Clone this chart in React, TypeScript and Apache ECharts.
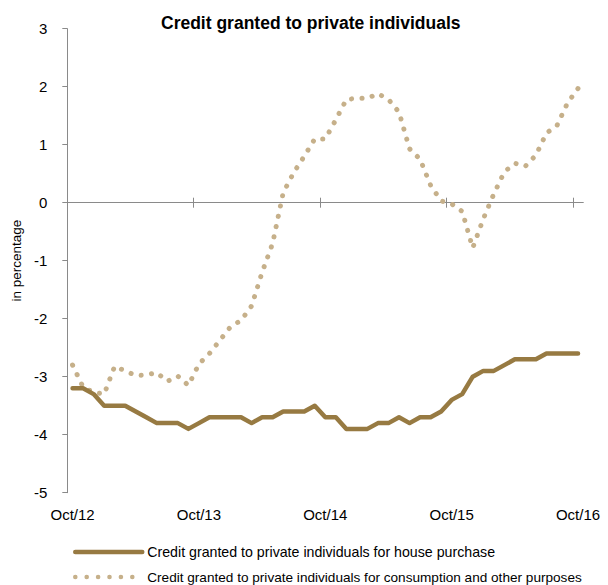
import React, { useEffect, useRef } from "react";
import * as echarts from "echarts";

const categories: string[] = [
  "Oct/12","Nov/12","Dec/12","Jan/13","Feb/13","Mar/13","Apr/13","May/13","Jun/13","Jul/13","Aug/13","Sep/13",
  "Oct/13","Nov/13","Dec/13","Jan/14","Feb/14","Mar/14","Apr/14","May/14","Jun/14","Jul/14","Aug/14","Sep/14",
  "Oct/14","Nov/14","Dec/14","Jan/15","Feb/15","Mar/15","Apr/15","May/15","Jun/15","Jul/15","Aug/15","Sep/15",
  "Oct/15","Nov/15","Dec/15","Jan/16","Feb/16","Mar/16","Apr/16","May/16","Jun/16","Jul/16","Aug/16","Sep/16",
  "Oct/16",
];

const housePurchase: number[] = [
  -3.2, -3.2, -3.3, -3.5, -3.5, -3.5, -3.6, -3.7, -3.8, -3.8, -3.8, -3.9,
  -3.8, -3.7, -3.7, -3.7, -3.7, -3.8, -3.7, -3.7, -3.6, -3.6, -3.6, -3.5,
  -3.7, -3.7, -3.9, -3.9, -3.9, -3.8, -3.8, -3.7, -3.8, -3.7, -3.7, -3.6,
  -3.4, -3.3, -3.0, -2.9, -2.9, -2.8, -2.7, -2.7, -2.7, -2.6, -2.6, -2.6,
  -2.6,
];

const consumption: number[] = [
  -2.8, -3.18, -3.27, -3.3, -2.82, -2.9, -2.98, -2.97, -2.93, -3.08, -2.99, -3.15,
  -2.78, -2.6, -2.37, -2.14, -2.03, -1.78, -1.2, -0.7, 0.17, 0.52, 0.8, 1.1,
  1.1, 1.43, 1.78, 1.8, 1.8, 1.88, 1.78, 1.56, 0.93, 0.75, 0.3, 0.03,
  -0.02, -0.15, -0.78, -0.28, 0.15, 0.53, 0.68, 0.63, 0.82, 1.2, 1.33, 1.72,
  1.97,
];

// positions (month index) of the yearly ticks on the zero line
const yearTickIndex: number[] = [0, 12, 24, 36, 48];

const seriesNames: string[] = [
  "Credit granted to private individuals for house purchase",
  "Credit granted to private individuals for consumption and other purposes",
];

const titleText = "Credit granted to private individuals";
const yAxisName = "in percentage";

const FONT = "'Liberation Sans Narrow', 'Arial Narrow', 'Liberation Sans', Arial, sans-serif";
const AXIS_COLOR = "#8a8a8a";
const SOLID_COLOR = "#977a42";
const DOT_COLOR = "#c6b08a";

export default function App() {
  const ref = useRef<HTMLDivElement>(null);
  useEffect(() => {
    document.body.style.margin = "0";
    if (!ref.current) return;
    const chart = echarts.init(ref.current, null, { renderer: "svg" });
    const n = categories.length;
    const tickAxis = {
      type: "value",
      min: 0,
      max: n,
      axisLabel: { show: false },
      splitLine: { show: false },
    };
    const legendBase = {
      orient: "vertical",
      left: 73,
      padding: 0,
      itemWidth: 67,
      itemHeight: 10,
      itemStyle: { opacity: 0 },
    };
    chart.setOption({
      animation: false,
      backgroundColor: "#ffffff",
      title: {
        text: titleText,
        left: 161,
        top: 14,
        padding: 0,
        textStyle: { fontFamily: FONT, fontWeight: "bold", fontSize: 17.5, color: "#000" },
      },
      grid: { left: 67.3, right: 24.7, top: 28.7, bottom: 92.3, containLabel: false },
      legend: [
        {
          ...legendBase,
          top: 545,
          data: [seriesNames[0]],
          textStyle: { fontFamily: FONT, fontSize: 14.2, color: "#000", lineHeight: 14 },
          lineStyle: { width: 4.5, color: SOLID_COLOR, type: "solid", cap: "round" },
        },
        {
          ...legendBase,
          top: 570,
          data: [seriesNames[1]],
          textStyle: { fontFamily: FONT, fontSize: 13.6, color: "#000", lineHeight: 14 },
          lineStyle: { width: 4.5, color: DOT_COLOR, type: [0.1, 11.3], cap: "round" },
        },
      ],
      xAxis: [
        {
          type: "category",
          data: categories,
          boundaryGap: true,
          position: "bottom",
          axisLine: { show: false, onZero: false },
          axisTick: { show: false },
          splitLine: { show: false },
          axisLabel: {
            interval: 11,
            margin: 14,
            fontFamily: FONT,
            fontSize: 15,
            color: "#000",
          },
        },
        {
          ...tickAxis,
          position: "bottom",
          axisLine: { show: true, onZero: true, onZeroAxisIndex: 0, lineStyle: { color: AXIS_COLOR, width: 1 } },
          axisTick: { show: true, customValues: yearTickIndex, length: 5, lineStyle: { color: AXIS_COLOR, width: 1 } },
        },
        {
          ...tickAxis,
          position: "top",
          axisLine: { show: false, onZero: true, onZeroAxisIndex: 0 },
          axisTick: { show: true, customValues: yearTickIndex, length: 5, lineStyle: { color: AXIS_COLOR, width: 1 } },
        },
      ],
      yAxis: {
        type: "value",
        min: -5,
        max: 3,
        interval: 1,
        name: yAxisName,
        nameLocation: "middle",
        nameGap: 42,
        nameTextStyle: { fontFamily: FONT, fontSize: 13.5, color: "#000" },
        axisLine: { show: true, onZero: false, lineStyle: { color: AXIS_COLOR, width: 1 } },
        axisTick: { show: true, length: 5, lineStyle: { color: AXIS_COLOR, width: 1 } },
        splitLine: { show: false },
        axisLabel: { margin: 20, fontFamily: FONT, fontSize: 15, color: "#000" },
      },
      series: [
        {
          name: seriesNames[0],
          type: "line",
          xAxisIndex: 0,
          data: housePurchase,
          symbol: "none",
          lineStyle: { color: SOLID_COLOR, width: 4.5, cap: "round", join: "round" },
          itemStyle: { color: SOLID_COLOR },
          z: 3,
        },
        {
          name: seriesNames[1],
          type: "line",
          xAxisIndex: 0,
          data: consumption,
          symbol: "none",
          lineStyle: { color: DOT_COLOR, width: 5, type: [0.1, 10.4], cap: "round", join: "round" },
          itemStyle: { color: DOT_COLOR },
          z: 2,
        },
      ],
    });
    return () => chart.dispose();
  }, []);
  return <div ref={ref} style={{ width: 608, height: 585 }} />;
}
